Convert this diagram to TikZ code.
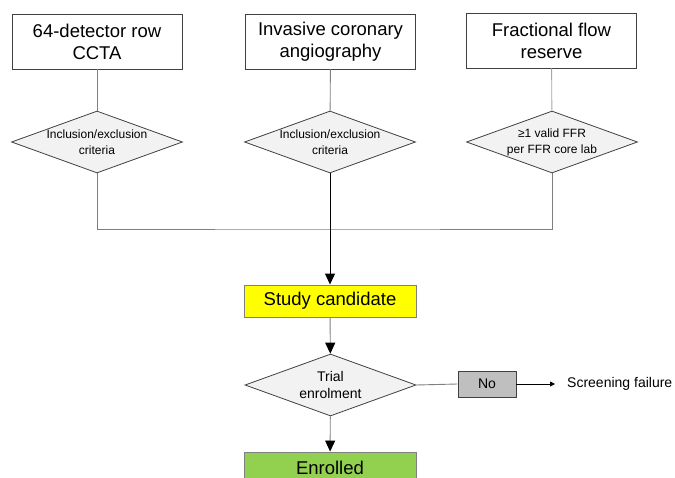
\documentclass[tikz,border=0pt]{standalone}
\usepackage{fontspec}
\setmainfont{Liberation Sans}
\usetikzlibrary{shapes.geometric,arrows.meta}
\definecolor{framegray}{HTML}{404040}
\definecolor{wiregray}{HTML}{7F7F7F}
\definecolor{lightwire}{HTML}{A6A6A6}
\definecolor{diamfill}{HTML}{F2F2F2}
\definecolor{candyellow}{HTML}{FFFF00}
\definecolor{enrolgreen}{HTML}{92D050}
\definecolor{nogray}{HTML}{BFBFBF}
\begin{document}
\begin{tikzpicture}[x=1pt,y=-1pt,
		srcbox/.style={draw=framegray,line width=0.9pt,minimum width=170pt,minimum height=55pt,inner sep=0pt,align=center,font=\fontsize{18.5}{22}\selectfont},
		check/.style={diamond,aspect=2.75,draw=framegray,line width=0.8pt,fill=diamfill,minimum width=171pt,minimum height=62pt,inner sep=0pt,align=center,font=\fontsize{12}{16}\selectfont},
		stagebox/.style={draw=wiregray,line width=0.9pt,minimum width=172pt,minimum height=32pt,inner sep=0pt,font=\fontsize{18.5}{22}\selectfont},
		wire/.style={draw=wiregray,line width=0.9pt},
		bigtip/.style={-{Triangle[length=11pt,width=10pt,color=black]}}]
		\useasboundingbox (0,0) rectangle (675,478);
		\clip (0,0) rectangle (675,478);
		% sources
		\node[srcbox] (ccta) at (97,41.5) {64-detector row\\CCTA};
		\node[srcbox] (ica) at (330.5,41.5) {Invasive coronary\\angiography};
		\node[srcbox] (ffr) at (551.5,40.5) {Fractional flow\\reserve};
		% criteria
		\node[check] (crit1) at (97,142) {Inclusion/exclusion\\criteria};
		\node[check] (crit2) at (330,142) {Inclusion/exclusion\\criteria};
		\node[check] (crit3) at (552,142) {≥1 valid FFR\\per FFR core lab};
		\coordinate (join) at (330,229);
		% flow
		\node[stagebox,fill=candyellow] (cand) at (330,301) {Study candidate};
		\node[check,font=\fontsize{14}{17}\selectfont] (trial) at (330.5,385) {Trial\\enrolment};
		\node[draw=framegray,line width=0.9pt,fill=nogray,minimum width=58pt,minimum height=26pt,inner sep=0pt,font=\fontsize{14}{16}\selectfont] (no) at (487,384) {No};
		\node[anchor=west,inner sep=0pt,font=\fontsize{14}{16}\selectfont] (fail) at (567,384) {Screening failure};
		\node[stagebox,fill=enrolgreen] (enrol) at (330,468) {Enrolled};
		% connectors
		\draw[wire] (ccta) -- (crit1);
		\draw[wire] (ica) -- (crit2);
		\draw[draw=lightwire,line width=0.9pt] (ffr) -- (crit3);
		\draw[wire] (crit1.south) |- (join) -| (crit3.south);
		\draw[bigtip,line width=1pt] (crit2.south) -- (cand.north);
		\draw[wire,bigtip] (cand) -- (trial);
		\draw[wire,bigtip] (trial) -- (enrol);
		\draw[wire] (trial.east) -- (no.west);
		\draw[line width=0.8pt,-{Triangle[length=5pt,width=5pt]}] (no.east) -- ([xshift=-12pt]fail.west);
	\end{tikzpicture}
\end{document}
